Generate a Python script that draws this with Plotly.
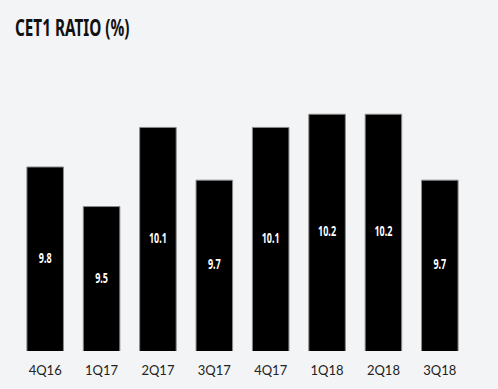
import plotly.graph_objects as go

quarters = ["4Q16", "1Q17", "2Q17", "3Q17", "4Q17", "1Q18", "2Q18", "3Q18"]
cet1_ratio = [9.8, 9.5, 10.1, 9.7, 10.1, 10.2, 10.2, 9.7]
labels = ["9.8", "9.5", "10.1", "9.7", "10.1", "10.2", "10.2", "9.7"]

y_min = 8.405
y_max = 10.611
mid = [(y_min + v) / 2 for v in cet1_ratio]

bg = "#f3f4f6"
narrow = "Noto Sans"

fig = go.Figure()
fig.add_trace(go.Bar(
    x=quarters, y=cet1_ratio,
    marker=dict(color="#000000", line=dict(color="#8a8a8a", width=1)),
    hoverinfo="skip",
))
fig.add_trace(go.Scatter(
    x=quarters, y=mid, mode="text", text=labels,
    textfont=dict(family=narrow, size=15, color="#ffffff", weight=700),
    hoverinfo="skip",
))

fig.update_layout(
    width=498, height=389,
    margin=dict(l=17, r=30, t=60, b=38),
    paper_bgcolor=bg, plot_bgcolor=bg,
    showlegend=False,
    bargap=0.352,
    title=dict(
        text="CET1 RATIO (%)",
        x=15 / 498, xanchor="left", xref="container",
        y=1 - 28 / 389, yanchor="middle", yref="container",
        font=dict(family=narrow, size=23, color="#111111", weight=700),
    ),
    xaxis=dict(
        showgrid=False, zeroline=False, showline=False, ticks="",
        ticklabelstandoff=10,
        tickfont=dict(family="Lato", size=13, color="#222222"),
    ),
    yaxis=dict(range=[y_min, y_max], visible=False),
)

fig.write_html("out.html", config={"displayModeBar": False})

css = ("<style>html,body{margin:0;padding:0;background:" + bg + "}"
       ".gtitle{transform-box:fill-box;transform-origin:left center;transform:scaleX(0.665);}"
       ".textpoint text{transform-box:fill-box;transform-origin:center;transform:scaleX(0.6);}"
       "</style>")
with open("out.html", encoding="utf-8") as f:
    html = f.read()
html = html.replace("<head>", "<head>" + css, 1)
with open("out.html", "w", encoding="utf-8") as f:
    f.write(html)
